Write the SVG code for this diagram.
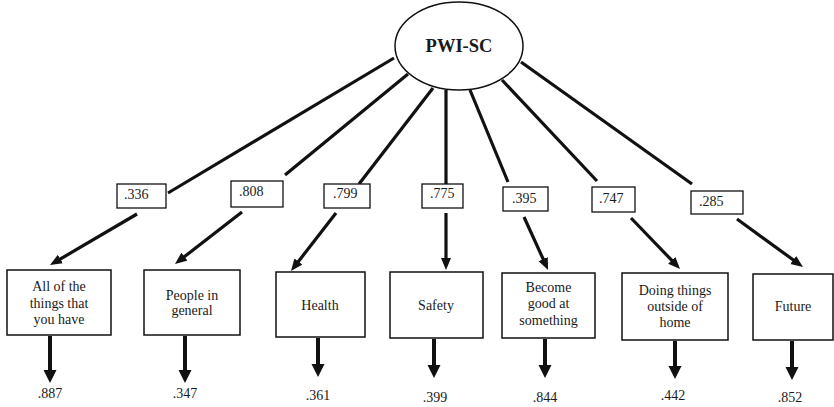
<svg xmlns="http://www.w3.org/2000/svg" width="834" height="407" viewBox="0 0 834 407">
<style>
text{font-family:'Liberation Serif','Times New Roman','DejaVu Serif',serif;fill:#1a1a1a;font-size:14px}
.c{text-anchor:middle}
.title{font-size:18.5px;font-weight:bold}
.box{fill:#fff;stroke:#111;stroke-width:1.5}
.lbl{fill:#fff;stroke:#111;stroke-width:1.3}
.ln{stroke:#111;stroke-width:3.2;fill:none}
.res{stroke:#111;stroke-width:4;fill:none}
</style>
<defs>
<marker id="ah" markerUnits="userSpaceOnUse" markerWidth="13" markerHeight="11" refX="4" refY="5" orient="auto" viewBox="0 0 13 10">
<path d="M0,0 L12,5 L0,10 z" fill="#111"/>
</marker>
</defs>
<g id="connectors">
<line class="ln" x1="394" y1="58" x2="168" y2="193"/>
<line class="ln" x1="137" y1="214" x2="56.9" y2="261" marker-end="url(#ah)"/>
<line class="ln" x1="408" y1="74" x2="285" y2="175"/>
<line class="ln" x1="242" y1="212" x2="181.3" y2="259.1" marker-end="url(#ah)"/>
<line class="ln" x1="433" y1="88" x2="359" y2="184"/>
<line class="ln" x1="336" y1="213" x2="295.9" y2="264.7" marker-end="url(#ah)"/>
<line class="ln" x1="446" y1="90" x2="446" y2="184"/>
<line class="ln" x1="446" y1="213" x2="446" y2="262" marker-end="url(#ah)"/>
<line class="ln" x1="470" y1="90" x2="508" y2="182"/>
<line class="ln" x1="524" y1="217" x2="544.8" y2="262.7" marker-end="url(#ah)"/>
<line class="ln" x1="502" y1="80" x2="597" y2="181"/>
<line class="ln" x1="631" y1="218" x2="674.5" y2="263.2" marker-end="url(#ah)"/>
<line class="ln" x1="521" y1="62" x2="692" y2="184"/>
<line class="ln" x1="737" y1="219" x2="796.5" y2="262.3" marker-end="url(#ah)"/>
<path class="res" d="M50,336 V371 M185,336 V371 M318,338 V366 M434,339 V367 M545,339 V367 M675,341 V368 M792,341 V369"/>
<path fill="#111" d="M43.5,370 L56.5,370 L50,383 z M178.5,370 L191.5,370 L185,383 z M311.5,364 L324.5,364 L318,377 z M427.5,365 L440.5,365 L434,378 z M538.5,365 L551.5,365 L545,378 z M668.5,366 L681.5,366 L675,379 z M785.5,367 L798.5,367 L792,380 z"/>
</g>
<g id="PWI-SC">
<ellipse cx="459" cy="46" rx="64" ry="44" fill="#fff" stroke="#111" stroke-width="1.5"/>
<text class="c title" x="459" y="52">PWI-SC</text>
</g>
<g id="label-336"><rect class="lbl" x="117" y="184" width="49" height="24"/><text x="124" y="199">.336</text></g>
<g id="label-808"><rect class="lbl" x="231" y="181" width="52" height="26"/><text x="239" y="196">.808</text></g>
<g id="label-799"><rect class="lbl" x="324" y="184" width="46" height="24"/><text x="333" y="198">.799</text></g>
<g id="label-775"><rect class="lbl" x="422" y="184" width="41" height="24"/><text x="430" y="198">.775</text></g>
<g id="label-395"><rect class="lbl" x="503" y="187" width="45" height="24"/><text x="512" y="203">.395</text></g>
<g id="label-747"><rect class="lbl" x="592" y="187" width="43" height="25"/><text x="599" y="203">.747</text></g>
<g id="label-285"><rect class="lbl" x="691" y="191" width="52" height="23"/><text x="699" y="206">.285</text></g>
<g id="box-all"><rect class="box" x="7" y="270" width="104" height="65"/>
<text class="c" x="59" y="291">All of the</text><text class="c" x="59" y="308">things that</text><text class="c" x="59" y="324">you have</text></g>
<g id="box-people"><rect class="box" x="144" y="270" width="96" height="65"/>
<text class="c" x="192" y="300">People in</text><text class="c" x="192" y="315">general</text></g>
<g id="box-health"><rect class="box" x="276" y="272" width="89" height="65"/>
<text class="c" x="320" y="310">Health</text></g>
<g id="box-safety"><rect class="box" x="390" y="272" width="93" height="66"/>
<text class="c" x="436" y="310">Safety</text></g>
<g id="box-become"><rect class="box" x="502" y="273" width="93" height="65"/>
<text class="c" x="548.5" y="292">Become</text><text class="c" x="548.5" y="308">good at</text><text class="c" x="548.5" y="325">something</text></g>
<g id="box-doing"><rect class="box" x="622" y="273" width="106" height="67"/>
<text class="c" x="675" y="295">Doing things</text><text class="c" x="675" y="311">outside of</text><text class="c" x="675" y="327">home</text></g>
<g id="box-future"><rect class="box" x="753" y="274" width="80" height="66"/>
<text class="c" x="793" y="311">Future</text></g>
<g id="residuals">
<text class="c" x="50" y="398">.887</text>
<text class="c" x="185" y="398">.347</text>
<text class="c" x="318" y="400">.361</text>
<text class="c" x="435" y="402">.399</text>
<text class="c" x="545" y="402">.844</text>
<text class="c" x="673" y="400">.442</text>
<text class="c" x="790" y="402">.852</text>
</g>
</svg>
